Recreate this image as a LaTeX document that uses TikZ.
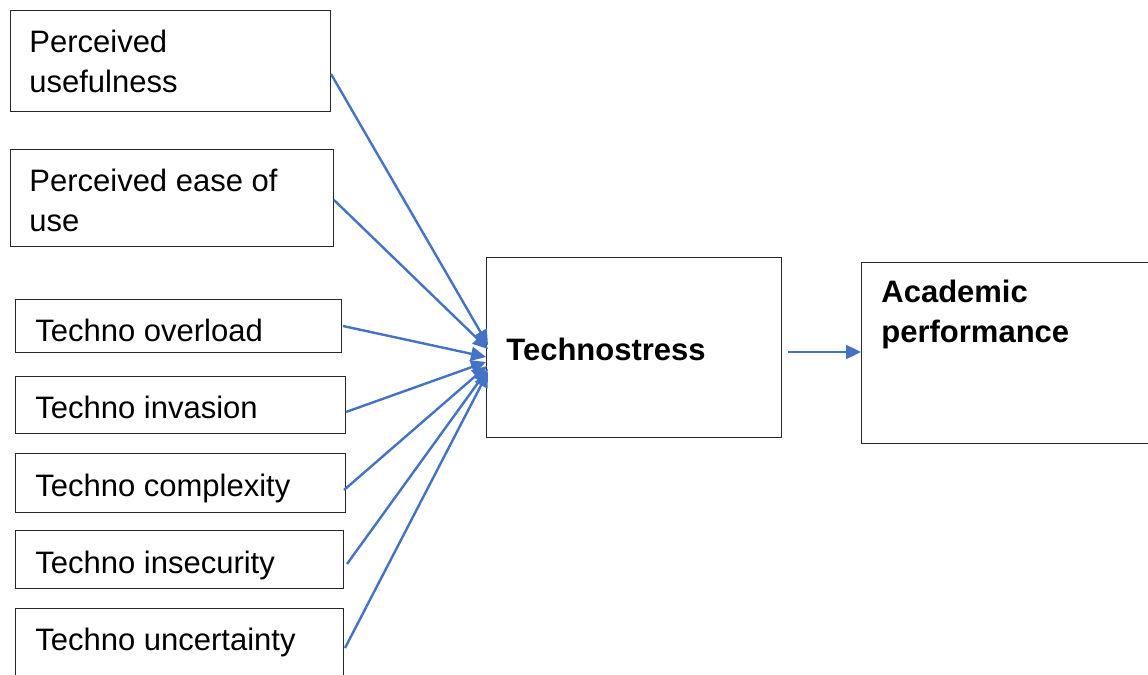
\documentclass[tikz,border=0pt]{standalone}
\usepackage{fontspec}
\setmainfont{Liberation Sans}
\usetikzlibrary{arrows.meta}
\definecolor{arrowblue}{RGB}{68,114,196}
\tikzset{
  box/.style={draw=black!85, line width=0.6pt, rectangle, inner sep=0pt, anchor=north west},
  lbl/.style={anchor=base west, inner sep=0pt, font=\fontsize{15.5}{20}\selectfont},
  conn/.style={draw=arrowblue, line width=1.2pt, -{Triangle[length=7.5pt,width=7pt]}}
}
\begin{document}
\begin{tikzpicture}[x=0.5pt,y=-0.5pt]
\useasboundingbox (0,0) rectangle (1148,675);
% boxes
\node[box, minimum width=160pt, minimum height=50.5pt] (pu) at (10,10) {};
\node[box, minimum width=161.5pt, minimum height=48.5pt] (peu) at (10,149) {};
\node[box, minimum width=163pt, minimum height=26.5pt] (to) at (15,299) {};
\node[box, minimum width=165pt, minimum height=28.5pt] (ti) at (15,376) {};
\node[box, minimum width=165pt, minimum height=29.5pt] (tc) at (15,453) {};
\node[box, minimum width=164pt, minimum height=29pt] (tis) at (15,530) {};
\node[box, minimum width=164pt, minimum height=45pt] (tu) at (15,608) {};
\node[box, minimum width=147.5pt, minimum height=90pt] (ts) at (486,257) {};
\node[box, minimum width=160pt, minimum height=90.5pt] (ap) at (861,262) {};
% texts
\node[lbl] (tpu1) at (29,52) {Perceived};
\node[lbl] (tpu2) at (29,92) {usefulness};
\node[lbl] (tpeu1) at (29,191) {Perceived ease of};
\node[lbl] (tpeu2) at (29,231) {use};
\node[lbl] (tto) at (35,341) {Techno overload};
\node[lbl] (tti) at (35,418) {Techno invasion};
\node[lbl] (ttc) at (35,496) {Techno complexity};
\node[lbl] (ttis) at (35,573) {Techno insecurity};
\node[lbl] (ttu) at (35,650) {Techno uncertainty};
\node[lbl, font=\fontsize{15.5}{20}\selectfont\bfseries] (tts) at (506,360) {Technostress};
\node[lbl, font=\fontsize{15.5}{20}\selectfont\bfseries] (tap1) at (881,302) {Academic};
\node[lbl, font=\fontsize{15.5}{20}\selectfont\bfseries] (tap2) at (881,342) {performance};
% connector end points
\coordinate (s1) at (331,74);
\coordinate (s2) at (334,200);
\coordinate (s3) at (343,326);
\coordinate (s4) at (346,412);
\coordinate (s5) at (344,490);
\coordinate (s6) at (347,564);
\coordinate (s7) at (345,648);
\coordinate (e1) at (488,345);
\coordinate (e2) at (488,349);
\coordinate (e3) at (486,357);
\coordinate (e4) at (486,362);
\coordinate (e5) at (487,366);
\coordinate (e6) at (488,369);
\coordinate (e7) at (488,372);
\coordinate (o1) at (788,352);
\coordinate (o2) at (861,352);
\draw[conn] (s1) -- (e1);
\draw[conn] (s2) -- (e2);
\draw[conn] (s3) -- (e3);
\draw[conn] (s4) -- (e4);
\draw[conn] (s5) -- (e5);
\draw[conn] (s6) -- (e6);
\draw[conn] (s7) -- (e7);
\draw[conn] (o1) -- (o2);
\end{tikzpicture}
\end{document}
